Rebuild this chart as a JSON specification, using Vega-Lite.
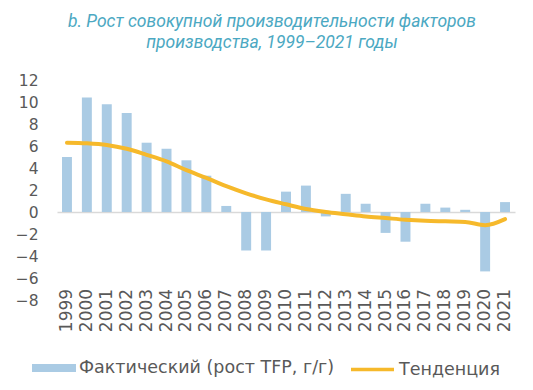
{
  "$schema": "https://vega.github.io/schema/vega-lite/v6.json",
  "autosize": {"type": "none"},
  "width": 458,
  "height": 220,
  "padding": {"left": 57, "top": 80, "right": 18, "bottom": 90},
  "background": "white",
  "title": {
    "text": ["b. Рост совокупной производительности факторов", "производства, 1999–2021 годы"],
    "font": "Roboto",
    "fontStyle": "italic",
    "fontWeight": "normal",
    "fontSize": 17.5,
    "lineHeight": 21,
    "color": "#4BA8C2",
    "anchor": "middle",
    "frame": "group",
    "dx": -14,
    "offset": 22
  },
  "config": {
    "view": {"stroke": null},
    "axis": {"labelFont": "DejaVu Sans", "labelColor": "#595959", "grid": false, "domain": false, "ticks": false, "title": null, "labelOverlap": false}
  },
  "datasets": {
    "tfp": [
      {"year": "1999", "actual": 5.0, "trend": 6.3},
      {"year": "2000", "actual": 10.4, "trend": 6.25},
      {"year": "2001", "actual": 9.8, "trend": 6.1},
      {"year": "2002", "actual": 9.0, "trend": 5.75},
      {"year": "2003", "actual": 6.3, "trend": 5.2},
      {"year": "2004", "actual": 5.75, "trend": 4.6},
      {"year": "2005", "actual": 4.7, "trend": 3.8},
      {"year": "2006", "actual": 3.3, "trend": 3.1},
      {"year": "2007", "actual": 0.55, "trend": 2.35},
      {"year": "2008", "actual": -3.5, "trend": 1.7},
      {"year": "2009", "actual": -3.5, "trend": 1.15},
      {"year": "2010", "actual": 1.85, "trend": 0.7},
      {"year": "2011", "actual": 2.4, "trend": 0.27},
      {"year": "2012", "actual": -0.4, "trend": 0.0},
      {"year": "2013", "actual": 1.65, "trend": -0.2},
      {"year": "2014", "actual": 0.75, "trend": -0.4},
      {"year": "2015", "actual": -1.9, "trend": -0.55},
      {"year": "2016", "actual": -2.7, "trend": -0.7},
      {"year": "2017", "actual": 0.75, "trend": -0.8},
      {"year": "2018", "actual": 0.4, "trend": -0.85},
      {"year": "2019", "actual": 0.2, "trend": -0.9},
      {"year": "2020", "actual": -5.4, "trend": -1.2},
      {"year": "2021", "actual": 0.9, "trend": -0.65}
    ]
  },
  "data": {"name": "tfp"},
  "encoding": {
    "x": {
      "field": "year", "type": "nominal", "sort": null,
      "scale": {"paddingInner": 0.5, "paddingOuter": 0.25},
      "axis": {"labelAngle": -90, "labelAlign": "center", "labelBaseline": "middle", "labelFontSize": 17, "labelPadding": 10, "labelOverlap": false}
    },
    "y": {
      "field": "actual", "type": "quantitative",
      "scale": {"domain": [-8, 12], "nice": false},
      "axis": {
        "values": [-8, -6, -4, -2, 0, 2, 4, 6, 8, 10, 12], "labelFontSize": 15.5, "labelPadding": 19, "labelOverlap": false,
        "grid": true, "gridColor": "#D9D9D9", "gridWidth": 1.5,
        "gridOpacity": {"condition": {"test": "datum.value === 0", "value": 1}, "value": 0}
      }
    }
  },
  "layer": [
    {
      "transform": [{"calculate": "'Фактический (рост TFP, г/г)'", "as": "s1"}],
      "mark": {"type": "bar", "color": "#AACBE4"},
      "encoding": {
        "fill": {
          "field": "s1", "type": "nominal",
          "scale": {"range": ["#AACBE4"]},
          "legend": {
            "orient": "none", "legendX": -25, "legendY": 266, "title": null, "padding": 0,
            "symbolType": "M-1,-0.18L1,-0.18L1,0.18L-1,0.18Z", "symbolSize": 1936, "symbolStrokeWidth": 0,
            "labelFont": "DejaVu Sans", "labelFontSize": 17.5, "labelColor": "#595959", "labelOffset": 3, "labelLimit": 400
          }
        }
      }
    },
    {
      "transform": [{"calculate": "'Тенденция'", "as": "s2"}],
      "mark": {"type": "line", "strokeWidth": 4, "interpolate": "monotone", "strokeCap": "round"},
      "encoding": {
        "y": {
          "field": "trend", "type": "quantitative",
          "axis": {
            "values": [-8, -6, -4, -2, 0, 2, 4, 6, 8, 10, 12], "labelFontSize": 15.5, "labelPadding": 19, "labelOverlap": false,
            "grid": true, "gridColor": "#D9D9D9", "gridWidth": 1.5,
            "gridOpacity": {"condition": {"test": "datum.value === 0", "value": 1}, "value": 0}
          }
        },
        "stroke": {
          "field": "s2", "type": "nominal",
          "scale": {"range": ["#F6B92B"]},
          "legend": {
            "orient": "none", "legendX": 292, "legendY": 266, "title": null, "padding": 0,
            "symbolType": "stroke", "symbolSize": 1849, "symbolStrokeWidth": 3.5,
            "labelFont": "DejaVu Sans", "labelFontSize": 17.5, "labelColor": "#595959", "labelOffset": 3, "labelLimit": 400
          }
        }
      }
    }
  ],
  "resolve": {"scale": {"fill": "independent", "stroke": "independent"}}
}
